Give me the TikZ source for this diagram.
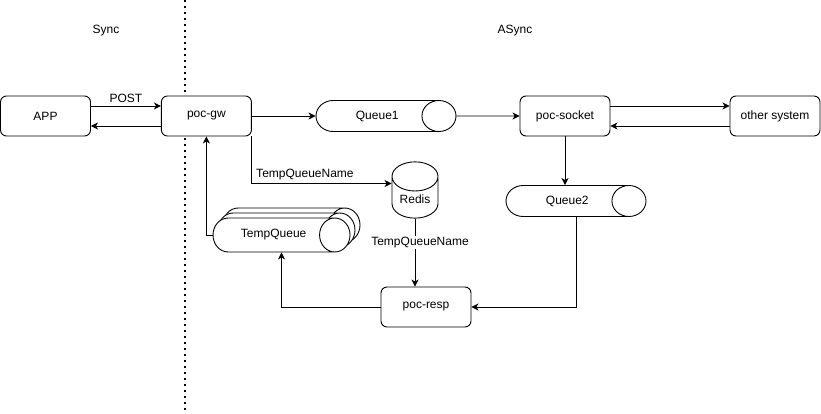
\documentclass[tikz,border=0pt]{standalone}
\usepackage{fontspec}
\setmainfont{Liberation Sans}
\usetikzlibrary{positioning,shapes.geometric,shadows,arrows.meta}

\begin{document}
\begin{tikzpicture}[x=1pt,y=-1pt,line width=0.9pt,>={Stealth[length=7pt,width=7pt,inset=2pt]},
	every node/.style = {font=\fontsize{12}{14}\selectfont},
	box/.style = {draw, fill=white, rounded corners=6pt, minimum width=90pt, minimum height=40pt, inner sep=0pt},
	queue/.style = {draw, cylinder, aspect=3.2, minimum width=31pt, minimum height=140pt, inner sep=0pt, fill=white, anchor=shape center},
	db/.style = {draw, cylinder, shape border rotate=90, aspect=0.95, minimum width=46pt, minimum height=56pt, inner sep=0pt, anchor=shape center}]
	\useasboundingbox (0,0) rectangle (821,414);
	\draw[dash pattern=on 1.6pt off 4.4pt, line width=1.6pt] (185,0) -- (185,414);
	\node (sync) at (106,31) {Sync};
	\node (async) at (515,31) {ASync};
	\node[box] (app) at (45.5,116) {APP};
	\node[box] (gw) [right=70pt of app] {poc-gw};
	\node[queue] (q1) at (386,116) {Queue1};
	\node[box] (sock) at (565,116) {poc-socket};
	\node[box] (other) at (775,116) {other system};
	\node[queue] (q2) at (576,201) {Queue2};
	\node[db] (redis) at (415,190) {\raisebox{-12pt}{Redis}};
	\node[box] (resp) at (426,307) {poc-resp};
	\node[queue, aspect=2.8, minimum height=137pt, minimum width=34pt,
		double copy shadow={shadow xshift=5pt, shadow yshift=5pt, draw=black, fill=white}] (tq) at (281.5,235) {TempQueue};
	\draw[->] ([yshift=10pt]app.east) -- node[above] {POST} ([yshift=10pt]gw.west);
	\draw[->] ([yshift=-10pt]gw.west) -- ([yshift=-10pt]app.east);
	\draw[->] (gw.east) -- (q1.west);
	\draw[->] (q1.east) -- (sock.west);
	\draw[->] ([yshift=10pt]sock.east) -- ([yshift=10pt]other.west);
	\draw[->] ([yshift=-10pt]other.west) -- ([yshift=-10pt]sock.east);
	\draw[->] (sock.south) -- (sock.south |- q2.north);
	\draw[->] (gw.south east) |- node[above, pos=0.69] {TempQueueName} ([yshift=14pt]redis.west);
	\draw[->] (redis.south) -- node[pos=0.35, xshift=5pt, fill=white, inner sep=1pt] {TempQueueName} (redis.south |- resp.north);
	\draw[->] (q2.shape center |- q2.south) |- (resp.east);
	\draw[->] (resp.west) -| (tq.shape center |- tq.south);
	\draw[->] (tq.west) -| (gw.south);
\end{tikzpicture}
\end{document}
